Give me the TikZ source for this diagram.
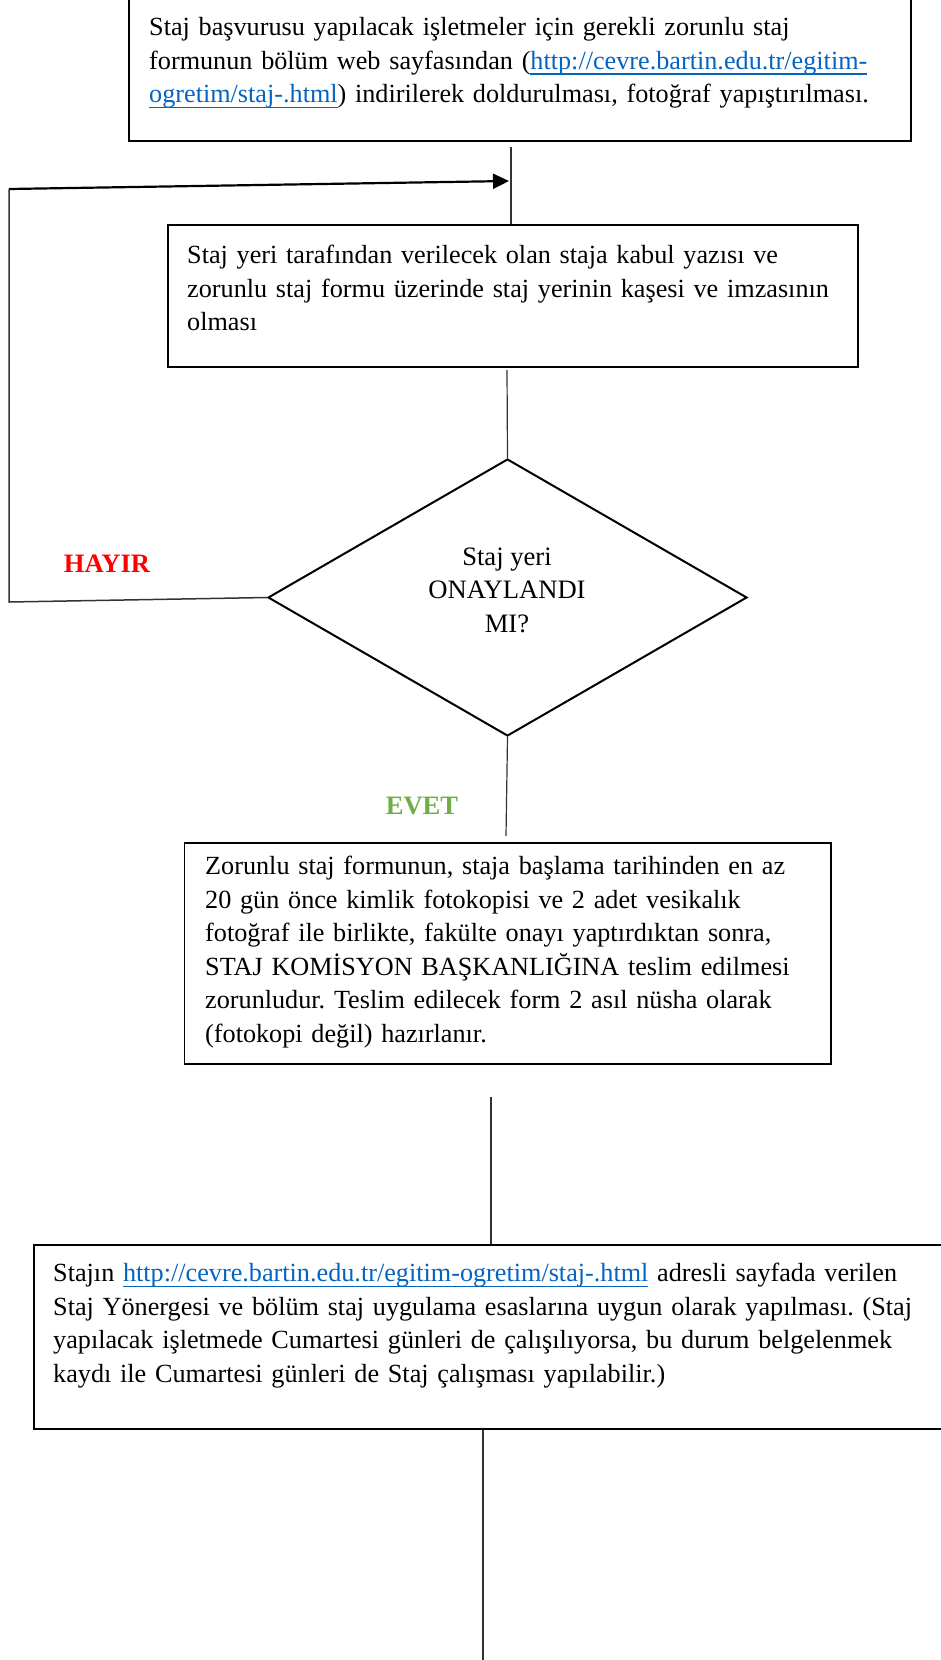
\documentclass[tikz,border=0pt]{standalone}
\usepackage{fontspec}
\setmainfont{Liberation Serif}
\usetikzlibrary{shapes.geometric,arrows.meta}
\definecolor{linkblue}{HTML}{0563C1}
\definecolor{hayirred}{HTML}{FF0000}
\definecolor{evetgreen}{HTML}{70AD47}
\newcommand\weblink[1]{\setbox0\hbox{#1}\textcolor{linkblue}{\rlap{\rule[-5.5pt]{\wd0}{1.5pt}}#1}}
\frenchspacing
\begin{document}
\begin{tikzpicture}[x=1pt,y=-1pt,
  txt/.style={font=\fontsize{26.2}{33.5}\selectfont\frenchspacing, inner sep=0pt, anchor=north west, align=left},
  box/.style={draw, line width=1.5pt, inner sep=0pt, anchor=north west},
  conn/.style={draw=black!80, line width=1.2pt},
  lbl/.style={font=\fontsize{26.6}{32}\selectfont\bfseries, inner sep=0pt}
]
\useasboundingbox (0,0) rectangle (941,1660);
\clip (0,0) rectangle (941,1660);

% boxes
\node[box, minimum width=782pt, minimum height=160pt] (b1) at (128,-20) {};
\node[box, minimum width=690pt, minimum height=142pt] (b2) at (167,224) {};
\node[box, minimum width=646.5pt, minimum height=221pt] (b3) at (183.5,842) {};
\node[box, minimum width=930pt, minimum height=184pt] (b4) at (33,1244) {};
\node[draw, diamond, line width=2pt, minimum width=479pt, minimum height=277pt, inner sep=0pt] (d) at (507.5,597.5) {};

% texts
\node[txt, text width=790pt] (t1) at (149,12) {\strut Staj başvurusu yapılacak işletmeler için gerekli zorunlu staj\\
formunun bölüm web sayfasından (\weblink{http://cevre.bartin.edu.tr/egitim-}\\
\weblink{ogretim/staj-.html}) indirilerek doldurulması, fotoğraf yapıştırılması.};

\node[txt, text width=700pt] (t2) at (187,240) {\strut Staj yeri tarafından verilecek olan staja kabul yazısı ve\\
zorunlu staj formu üzerinde staj yerinin kaşesi ve imzasının\\
olması};

\node[txt, text width=640pt] (t3) at (205,851) {\strut Zorunlu staj formunun, staja başlama tarihinden en az\\
20 gün önce kimlik fotokopisi ve 2 adet vesikalık\\
fotoğraf ile birlikte, fakülte onayı yaptırdıktan sonra,\\
STAJ KOMİSYON BAŞKANLIĞINA teslim edilmesi\\
zorunludur. Teslim edilecek form 2 asıl nüsha olarak\\
(fotokopi değil) hazırlanır.};

\node[txt, text width=880pt] (t4) at (53,1258) {\strut Stajın \weblink{http://cevre.bartin.edu.tr/egitim-ogretim/staj-.html} adresli sayfada verilen\\
Staj Yönergesi ve bölüm staj uygulama esaslarına uygun olarak yapılması. (Staj\\
yapılacak işletmede Cumartesi günleri de çalışılıyorsa, bu durum belgelenmek\\
kaydı ile Cumartesi günleri de Staj çalışması yapılabilir.)};

\node[font=\fontsize{26.6}{33.5}\selectfont, align=center, inner sep=0pt] (dt) at (507,590) {Staj yeri\\ONAYLANDI\\MI?};

\node[lbl, text=hayirred] (hayir) at (107,564) {HAYIR};
\node[lbl, text=evetgreen] (evet) at (422,806) {EVET};

% connector end points
\coordinate (c1a) at (511,147);
\coordinate (j) at (509,181);
\coordinate (lt) at (9,189);
\coordinate (lb) at (9,602);
\coordinate (c2a) at (507,370);
\coordinate (c3b) at (506,836);
\coordinate (c4a) at (491,1097);
\coordinate (c5) at (483,1660);

% connectors
\draw[conn] (c1a) -- (c1a |- b2.north);
\draw[line width=2.2pt, -{Triangle[length=16pt,width=15pt]}] (lt) -- (j);
\draw[conn, line width=1.5pt] (d.west) -- (lb) -- (lt);
\draw[conn] (c2a) -- (d.north);
\draw[conn] (d.south) -- (c3b);
\draw[conn] (c4a) -- (c4a |- b4.north);
\draw[conn] (c5 |- b4.south) -- (c5);
\end{tikzpicture}
\end{document}
